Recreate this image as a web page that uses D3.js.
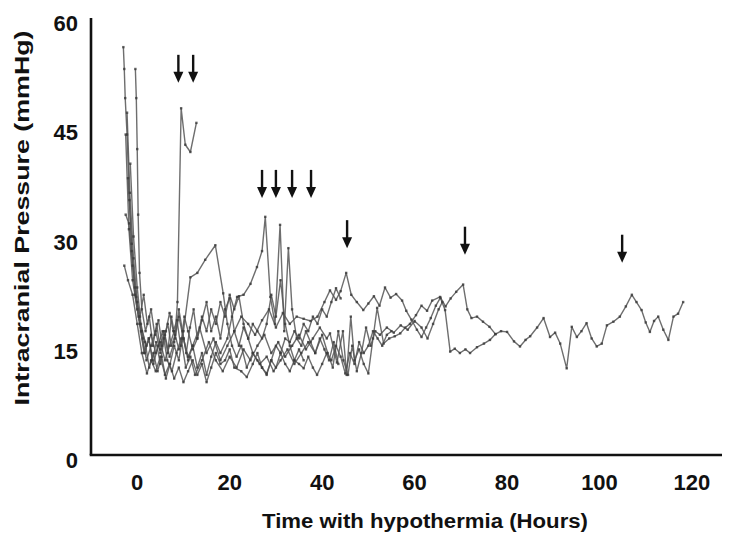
<!DOCTYPE html>
<html>
<head>
<meta charset="utf-8">
<script src="https://cdn.jsdelivr.net/npm/d3@7"></script>
<style>
  body { margin: 0; background: #fff; }
  svg { display: block; }
  text { font-family: "Liberation Sans", Arial, sans-serif; font-weight: bold; fill: #111; }
</style>
</head>
<body>
<div id="chart"></div>
<script>
const width = 734,
  height = 533;

// ICP traces, one per patient: [hours with hypothermia, mmHg]
const patientA = [[-2.5, 44], [-1.8, 31], [-1, 24], [0, 20], [1, 17], [2, 15], [3, 16.5], [4, 14], [5, 15.5], [6, 13], [7, 15], [8, 17], [9, 14.5], [10, 16], [11, 13.5], [12, 15], [13.5, 17.5], [15, 14], [16.5, 16], [18, 13], [19.5, 15], [21, 17], [22.5, 19], [24, 18], [25.5, 16.5], [27, 18.5], [28.5, 20], [30, 17.5], [31.5, 19.5], [33, 18], [34.5, 19], [36, 18.7], [37.5, 18.4], [39, 19], [40.5, 21], [41.7, 22.6], [43, 21.3], [44, 22.5], [45.2, 25], [46.3, 22], [47.5, 21], [48.9, 19.9], [50, 20.8], [51.2, 21.8], [52.4, 20.5], [53.6, 23], [54.8, 21.6], [56, 22.1], [57.3, 21.2], [58.2, 19.8], [59.3, 18.6], [60.5, 17.2], [61.5, 16.2], [62.5, 17.5], [63.5, 18.8], [64.6, 20.5], [65.6, 21.6], [66.7, 20.4], [67.8, 21.5], [69, 22.4], [70.5, 23.4], [71.4, 20], [72.3, 18.8], [73.5, 19], [74.8, 18.3], [76.2, 17.6], [77.5, 16.6], [78.7, 17], [80, 16.9], [81.5, 15.6], [82.8, 14.9], [84, 15.8], [85, 16.3], [86.5, 17.5], [87.9, 18.8], [89.3, 16.2], [90.4, 16.8], [91.5, 15.3], [92.9, 11.9], [94, 17.6], [95.1, 16.2], [96.1, 17], [97.2, 18.1], [98.3, 16], [99.4, 14.9], [100.5, 15.3], [101.6, 17.8], [103, 18.3], [104.4, 19], [105.7, 20.4], [107, 22], [108, 21], [109.1, 19.9], [110, 18.2], [110.9, 16.9], [111.8, 18.4], [112.7, 19], [113.8, 17.2], [114.9, 15.8], [116, 19], [117, 19.4], [118.1, 21]];

const patientB = [[-2, 38], [-1.2, 29], [-0.5, 22], [0.5, 18], [1.5, 14], [2.5, 16], [3.5, 12.5], [4.5, 15], [5.5, 17], [6.5, 13], [7.5, 11.5], [8.5, 14], [9.5, 16], [10.5, 12], [11.5, 13.5], [12.5, 11], [14, 13], [15.5, 15.5], [17, 13], [18.5, 11.5], [20, 13.5], [21.5, 12], [23, 14.5], [24.5, 13], [26, 15], [27.5, 16.5], [29, 14], [30.5, 15.5], [32, 13.5], [33.5, 15], [35, 16.5], [36.5, 14.5], [38, 16], [39.5, 17.5], [41, 16], [41.7, 16.7], [43.2, 12.7], [44.5, 17], [45.3, 11], [46.2, 19], [47, 13], [48, 14.5], [49, 12.5], [50, 11.2], [51, 16], [51.9, 20.2], [53.3, 15.3], [54.5, 16], [55.7, 16.3], [56.9, 16.7], [58, 17.5], [59, 18], [60.3, 19.2], [61.5, 20.5], [62.7, 19.8], [63.8, 21.2], [65.5, 21.7], [66.6, 19.9], [67.7, 14.2], [68.7, 14.6], [69.8, 14], [71, 14.5], [72, 14], [73.5, 14.8], [75, 15.3], [76.3, 15.8], [77.5, 16.6]];

const patientC = [[-2.2, 47], [-1.6, 36], [-0.8, 27], [0, 21], [0.8, 17], [1.6, 14], [2.5, 16], [3.3, 13], [4.1, 15.5], [5, 12.5], [5.8, 16], [6.6, 18], [7.4, 15], [8.2, 16.5], [8.7, 21], [9.5, 47.6], [10.4, 42.6], [11.5, 41.6], [12.8, 45.6]];

const patientD = [[-1.5, 40], [-0.8, 30], [0, 23], [0.8, 18], [1.7, 15.5], [2.6, 12], [3.5, 14], [4.4, 11.5], [5.3, 13.5], [6.2, 10.5], [7.1, 12.5], [8, 15], [9, 13], [10, 17], [11.5, 24.4], [13, 25], [14.7, 26.8], [16.9, 28.8], [18.6, 22.2], [19.5, 18], [20.5, 15], [21.5, 13.5], [22.5, 15], [23.7, 12], [25, 14], [26.5, 12.5], [28, 13.5], [29.5, 11.5], [31, 13], [32.5, 14.5], [34, 12.5], [35.5, 14], [37, 15.5], [38.5, 14], [40, 16.5], [41.2, 14], [42.3, 12], [43.5, 17], [44.6, 13], [45.6, 11], [46.5, 15], [47.5, 11.5], [48.5, 14], [49.5, 17.5], [50.5, 15], [51.5, 17], [52.5, 16.5], [54, 17.5], [55.5, 16.8], [57, 17.8], [58.5, 17.2], [60, 18.4], [61.5, 17.5], [62.8, 16], [64, 18], [65.2, 20], [66, 21]];

const patientE = [[-3, 56], [-2.8, 53], [-2.6, 49], [-2.2, 44], [-1.7, 35], [-1.2, 28], [-0.5, 23], [0.3, 19], [1.2, 16], [2, 13], [3, 15], [4, 17], [5, 14], [6, 16.5], [7, 13.5], [8, 15.5], [9, 19], [10, 16], [11, 13], [12, 15], [13, 12], [14, 14], [15, 11], [16, 13.5], [17, 15.5], [18, 14], [19.5, 16], [20.5, 19], [21.6, 21.7], [23, 22], [24.5, 23.5], [25.9, 25.8], [27, 28], [27.7, 32.7], [28.8, 21.7], [29.8, 18], [30.9, 31.6], [31.8, 17], [32.7, 28.4], [33.5, 20], [34.5, 16], [35.5, 15], [36.5, 17], [37.5, 15.5], [38.5, 14], [39.5, 16], [40.5, 14.5], [41.5, 13], [42.5, 15.5], [43.5, 12.5]];

const patientF = [[-0.4, 53], [-0.2, 49], [0, 42], [0.2, 33], [0.5, 25], [1, 20], [1.8, 17], [2.6, 19], [3.4, 15], [4.2, 18], [5, 14.5], [5.8, 17], [6.6, 14], [7.4, 19], [8.2, 16], [9, 20], [9.8, 17], [10.6, 14], [11.4, 17.5], [12.2, 20], [13, 16], [14, 18.5], [15, 21], [16, 17], [17, 19], [18, 16], [19, 20], [20, 21.5], [21, 17], [22, 15], [23, 17.5], [24, 16], [25, 18], [26, 17], [27, 16], [28, 18], [29, 22], [30, 19], [31, 24], [32, 18], [33, 15], [34, 13], [35, 14.5], [36, 13]];

const patientG = [[-2.8, 26], [-2, 24], [-1, 22], [0, 18], [1, 14], [2.1, 11.2], [3, 13], [4, 11.5], [5, 13.5], [6, 11], [7, 12.5], [8, 10.5], [9, 12], [10, 10], [11, 11.5], [12, 13], [13, 11], [14, 12.5], [15, 10], [16, 12], [17, 14], [18, 12.5], [19, 13], [20, 14.5], [21, 12], [22.5, 11.5], [23.7, 10.7], [25, 12.5], [26, 14], [27, 12], [28, 11.2], [29, 13], [30, 12], [31, 14], [32, 12.5], [33, 11.5], [34, 13], [35, 12.5], [36, 11.9], [37, 13.5], [38, 12], [38.9, 11], [40, 12.5], [41, 14], [42, 13], [43, 15], [44, 13.5], [45, 11.2], [46, 14], [47, 12.5], [48, 15.5], [49, 14], [50, 15], [51, 17], [52, 16], [53, 15], [54, 16.5], [55, 17]];

const patientH = [[-2.5, 33], [-1.8, 31.8], [-1, 26], [-0.2, 21.7], [0.6, 19], [1.4, 22], [2.2, 18], [3, 20], [3.8, 16.5], [4.6, 18.5], [5.4, 15], [6.2, 17], [7, 19.5], [7.8, 17], [8.6, 18.5], [9.4, 15], [10.2, 19], [11, 17], [12, 14.5], [13, 16], [14, 19], [15, 17], [16, 20], [17, 18], [18, 21], [19, 19], [20, 22], [21, 20], [22, 21.8], [23, 18], [24, 16], [25, 14], [26, 13], [27, 12], [28, 11], [29, 13], [30, 15], [31, 14], [32, 16], [33, 15.5], [34, 17], [35, 16], [36, 18], [37, 17], [38, 19], [39, 18], [40, 20], [41, 19], [42, 21], [43, 22.9], [44, 21.5]];

const patients = [patientA, patientB, patientC, patientD, patientE, patientF, patientG, patientH];

// interventions (arrows): hour and ICP level where the arrow tip sits
const arrowHours = [8.9, 12.1, 27, 30, 33.5, 37.6, 45.4, 70.9, 104.9];
const arrowLevels = [51.1, 51.1, 35.3, 35.3, 35.3, 35.3, 28.4, 27.5, 26.4];

const xTicks = [0, 20, 40, 60, 80, 100, 120];
const yTicks = [0, 15, 30, 45, 60];

const svg = d3.select("#chart")
  .append("svg")
  .attr("width", width)
  .attr("height", height);

const x = d3.scaleLinear()
  .domain([-10, 126.5])
  .range([91, 722]);

const y = d3.scaleLinear()
  .domain([0, 60])
  .range([455, 18]);

const line = d3.line()
  .x(d => x(d[0]))
  .y(d => y(d[1]));

// traces
const traces = svg.append("g").attr("class", "traces");

traces.selectAll(".trace")
  .data(patients)
  .join("path")
  .attr("class", "trace")
  .attr("d", line)
  .attr("fill", "none")
  .attr("stroke", "#555")
  .attr("stroke-opacity", 0.85)
  .attr("stroke-width", 1.4)
  .attr("stroke-linejoin", "round");

traces.selectAll(".marks")
  .data(patients)
  .join("g")
  .attr("class", "marks")
  .selectAll("rect")
  .data(d => d)
  .join("rect")
  .attr("x", d => x(d[0]) - 1.2)
  .attr("y", d => y(d[1]) - 1.2)
  .attr("width", 2.4)
  .attr("height", 2.4)
  .attr("fill", "#3a3a3a")
  .attr("opacity", 0.8);

// arrows
const arrows = svg.append("g").attr("class", "arrows")
  .selectAll("g")
  .data(arrowHours.map((h, i) => ({ hour: h, level: arrowLevels[i] })))
  .join("g")
  .attr("transform", d => "translate(" + x(d.hour) + "," + y(d.level) + ")");

arrows.append("line")
  .attr("x1", 0).attr("x2", 0)
  .attr("y1", -28).attr("y2", -9)
  .attr("stroke", "#111")
  .attr("stroke-width", 2.4);

arrows.append("path")
  .attr("d", "M-5,-11 L5,-11 L0,0 Z")
  .attr("fill", "#111");

// axes
svg.append("line")
  .attr("x1", x(-10)).attr("x2", x(-10))
  .attr("y1", y(60)).attr("y2", y(0))
  .attr("stroke", "#111")
  .attr("stroke-width", 2.6);

svg.append("line")
  .attr("x1", x(-10) - 1.3).attr("x2", x(126.5))
  .attr("y1", y(0)).attr("y2", y(0))
  .attr("stroke", "#111")
  .attr("stroke-width", 2.6);

svg.append("g")
  .selectAll("text")
  .data(yTicks)
  .join("text")
  .attr("x", 78)
  .attr("y", d => y(d) + 13)
  .attr("text-anchor", "end")
  .attr("font-size", 22)
  .text(d => d);

svg.append("g")
  .selectAll("text")
  .data(xTicks)
  .join("text")
  .attr("x", d => x(d))
  .attr("y", 490)
  .attr("text-anchor", "middle")
  .attr("font-size", 22)
  .text(d => d);

svg.append("text")
  .attr("x", 425)
  .attr("y", 528)
  .attr("text-anchor", "middle")
  .attr("font-size", 20)
  .attr("textLength", 326)
  .attr("lengthAdjust", "spacingAndGlyphs")
  .text("Time with hypothermia (Hours)");

svg.append("text")
  .attr("transform", "translate(29,218) rotate(-90)")
  .attr("text-anchor", "middle")
  .attr("font-size", 20)
  .attr("textLength", 375)
  .attr("lengthAdjust", "spacingAndGlyphs")
  .text("Intracranial Pressure (mmHg)");
</script>
</body>
</html>
